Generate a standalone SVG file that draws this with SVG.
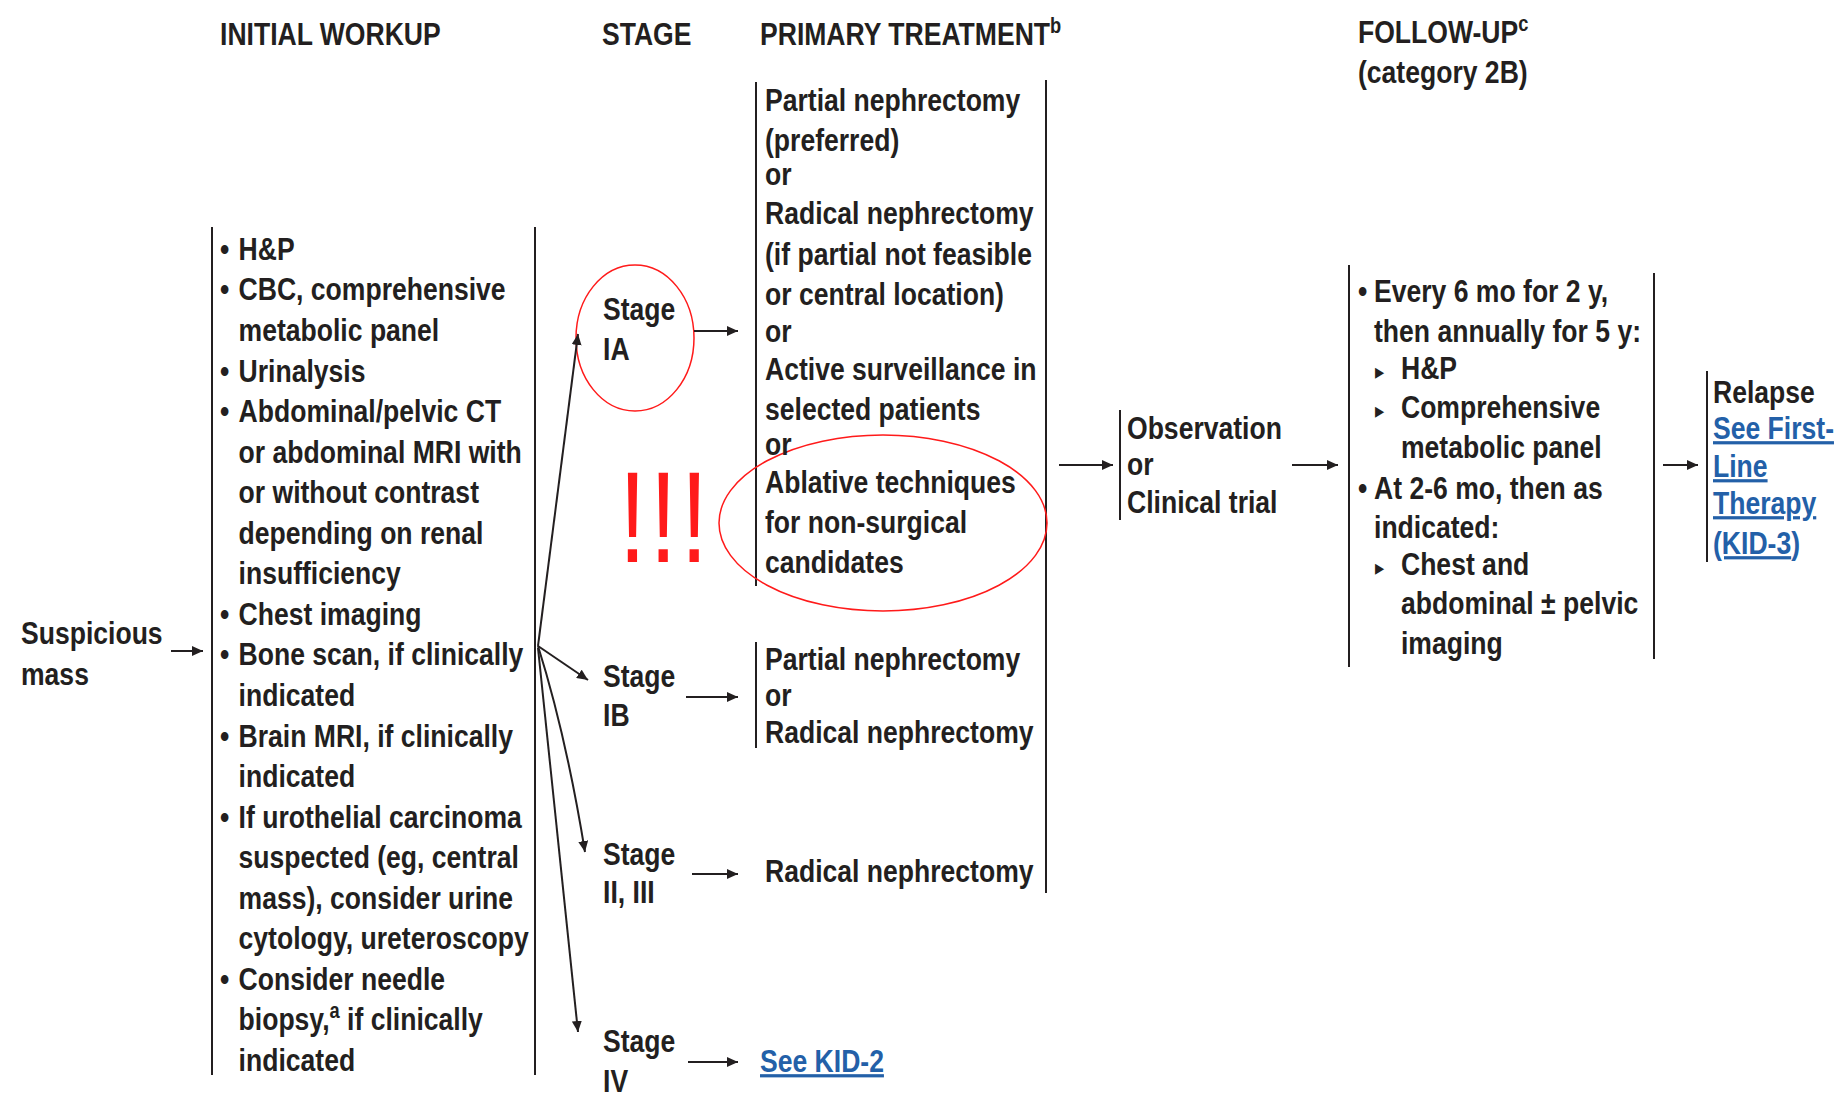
<svg xmlns="http://www.w3.org/2000/svg" width="1845" height="1096" viewBox="0 0 1845 1096">
<defs>
<style>
.t{font-family:"Liberation Sans",Arial,"DejaVu Sans",sans-serif;font-weight:bold;font-size:32px;fill:#231f20}
.sup{font-size:22px}
.tri{font-family:"DejaVu Sans",sans-serif;font-size:22px}
.lk{fill:#2360a8;text-decoration:underline}
.bar{stroke:#231f20;stroke-width:2}
.c{stroke:#231f20;stroke-width:2;fill:none;marker-end:url(#ah)}
.hl{fill:none;stroke:#ff1a1a;stroke-width:1.5}
.ex{font-family:"Liberation Sans",Arial,sans-serif;font-weight:normal;font-size:130px;letter-spacing:5px;fill:#ff1a1a}
</style>
<marker id="ah" markerUnits="userSpaceOnUse" markerWidth="12" markerHeight="10" refX="11" refY="5" orient="auto"><path d="M0,0 L11,5 L0,10 z" fill="#231f20"/></marker>
</defs>
<rect width="1845" height="1096" fill="#fff"/>

<g id="headers">
<text class="t" transform="translate(220,45) scale(0.83,1)">INITIAL WORKUP</text>
<text class="t" transform="translate(602,45) scale(0.83,1)">STAGE</text>
<text class="t" transform="translate(760,45) scale(0.83,1)">PRIMARY TREATMENT<tspan class="sup" dy="-12">b</tspan></text>
<text class="t" transform="translate(1358,43) scale(0.83,1)"><tspan x="0" y="0">FOLLOW-UP</tspan><tspan class="sup" dy="-12">c</tspan><tspan x="0" y="40">(category 2B)</tspan></text>
</g>

<g id="suspicious-mass">
<text class="t" transform="translate(21,644) scale(0.83,1)"><tspan x="0" y="0">Suspicious</tspan><tspan x="0" y="41">mass</tspan></text>
</g>

<g id="initial-workup">
<line class="bar" x1="212" y1="227" x2="212" y2="1075"/>
<line class="bar" x1="535" y1="227" x2="535" y2="1075"/>
<text class="t" transform="translate(220,260) scale(0.83,1)">
<tspan x="0" y="0">•</tspan><tspan x="22.4" y="0">H&amp;P</tspan>
<tspan x="0" y="40.5">•</tspan><tspan x="22.4" y="40.5">CBC, comprehensive</tspan>
<tspan x="22.4" y="81.1">metabolic panel</tspan>
<tspan x="0" y="121.7">•</tspan><tspan x="22.4" y="121.7">Urinalysis</tspan>
<tspan x="0" y="162.2">•</tspan><tspan x="22.4" y="162.2">Abdominal/pelvic CT</tspan>
<tspan x="22.4" y="202.8">or abdominal MRI with</tspan>
<tspan x="22.4" y="243.3">or without contrast</tspan>
<tspan x="22.4" y="283.9">depending on renal</tspan>
<tspan x="22.4" y="324.4">insufficiency</tspan>
<tspan x="0" y="365">•</tspan><tspan x="22.4" y="365">Chest imaging</tspan>
<tspan x="0" y="405.5">•</tspan><tspan x="22.4" y="405.5">Bone scan, if clinically</tspan>
<tspan x="22.4" y="446">indicated</tspan>
<tspan x="0" y="486.6">•</tspan><tspan x="22.4" y="486.6">Brain MRI, if clinically</tspan>
<tspan x="22.4" y="527.2">indicated</tspan>
<tspan x="0" y="567.7">•</tspan><tspan x="22.4" y="567.7">If urothelial carcinoma</tspan>
<tspan x="22.4" y="608.3">suspected (eg, central</tspan>
<tspan x="22.4" y="648.8">mass), consider urine</tspan>
<tspan x="22.4" y="689.4">cytology, ureteroscopy</tspan>
<tspan x="0" y="730">•</tspan><tspan x="22.4" y="730">Consider needle</tspan>
<tspan x="22.4" y="770.5">biopsy,</tspan><tspan class="sup" dy="-12">a</tspan><tspan dy="12"> if clinically</tspan>
<tspan x="22.4" y="811">indicated</tspan>
</text>
</g>

<g id="stage-ia">
<ellipse class="hl" cx="635" cy="338" rx="59" ry="73"/>
<text class="t" transform="translate(603,320) scale(0.83,1)"><tspan x="0" y="0">Stage</tspan><tspan x="0" y="40">IA</tspan></text>
</g>
<g id="stage-ib">
<text class="t" transform="translate(603,687) scale(0.83,1)"><tspan x="0" y="0">Stage</tspan><tspan x="0" y="39">IB</tspan></text>
</g>
<g id="stage-ii-iii">
<text class="t" transform="translate(603,865) scale(0.83,1)"><tspan x="0" y="0">Stage</tspan><tspan x="0" y="38">II, III</tspan></text>
</g>
<g id="stage-iv">
<text class="t" transform="translate(603,1052) scale(0.83,1)"><tspan x="0" y="0">Stage</tspan><tspan x="0" y="40">IV</tspan></text>
</g>

<g id="exclamation">
<text class="ex" transform="translate(619,562) scale(0.75,1)">!!!</text>
</g>

<g id="treatment-ia">
<line class="bar" x1="756" y1="82" x2="756" y2="586"/>
<line class="bar" x1="1046" y1="80" x2="1046" y2="893"/>
<ellipse class="hl" cx="883" cy="523" rx="164" ry="88"/>
<text class="t" transform="translate(765,110.5) scale(0.83,1)">
<tspan x="0" y="0">Partial nephrectomy</tspan>
<tspan x="0" y="40.5">(preferred)</tspan>
<tspan x="0" y="75">or</tspan>
<tspan x="0" y="113.5">Radical nephrectomy</tspan>
<tspan x="0" y="154.5">(if partial not feasible</tspan>
<tspan x="0" y="194.5">or central location)</tspan>
<tspan x="0" y="231.5">or</tspan>
<tspan x="0" y="270">Active surveillance in</tspan>
<tspan x="0" y="310">selected patients</tspan>
<tspan x="0" y="344.5">or</tspan>
<tspan x="0" y="383">Ablative techniques</tspan>
<tspan x="0" y="423">for non-surgical</tspan>
<tspan x="0" y="463">candidates</tspan>
</text>
</g>

<g id="treatment-ib">
<line class="bar" x1="756" y1="642" x2="756" y2="748"/>
<text class="t" transform="translate(765,670) scale(0.83,1)"><tspan x="0" y="0">Partial nephrectomy</tspan><tspan x="0" y="36">or</tspan><tspan x="0" y="73">Radical nephrectomy</tspan></text>
</g>

<g id="treatment-ii-iii">
<text class="t" transform="translate(765,882) scale(0.83,1)">Radical nephrectomy</text>
</g>

<g id="treatment-iv">
<text class="t lk" transform="translate(760,1072) scale(0.83,1)">See KID-2</text>
</g>

<g id="observation">
<line class="bar" x1="1120" y1="410" x2="1120" y2="520"/>
<text class="t" transform="translate(1127,439) scale(0.83,1)"><tspan x="0" y="0">Observation</tspan><tspan x="0" y="36">or</tspan><tspan x="0" y="74">Clinical trial</tspan></text>
</g>

<g id="follow-up">
<line class="bar" x1="1349" y1="265" x2="1349" y2="667"/>
<line class="bar" x1="1654" y1="273" x2="1654" y2="659"/>
<text class="t" transform="translate(1358,302) scale(0.83,1)">
<tspan x="0" y="0">•</tspan><tspan x="19.3" y="0">Every 6 mo for 2 y,</tspan>
<tspan x="19.3" y="40">then annually for 5 y:</tspan>
<tspan class="tri" x="20.5" y="77.5">▸</tspan><tspan x="51.8" y="77.5">H&amp;P</tspan>
<tspan class="tri" x="20.5" y="116">▸</tspan><tspan x="51.8" y="116">Comprehensive</tspan>
<tspan x="51.8" y="156.5">metabolic panel</tspan>
<tspan x="0" y="197">•</tspan><tspan x="19.3" y="197">At 2-6 mo, then as</tspan>
<tspan x="19.3" y="236.5">indicated:</tspan>
<tspan class="tri" x="20.5" y="273">▸</tspan><tspan x="51.8" y="273">Chest and</tspan>
<tspan x="51.8" y="312.5">abdominal ± pelvic</tspan>
<tspan x="51.8" y="352">imaging</tspan>
</text>
</g>

<g id="relapse">
<line class="bar" x1="1707" y1="371" x2="1707" y2="562"/>
<text class="t" transform="translate(1713,403) scale(0.83,1)"><tspan x="0" y="0">Relapse</tspan><tspan class="lk" x="0" y="36">See First-</tspan><tspan class="lk" x="0" y="74">Line</tspan><tspan class="lk" x="0" y="111">Therapy</tspan><tspan class="lk" x="0" y="151">(KID-3</tspan><tspan fill="#2360a8">)</tspan></text>
</g>

<g id="connectors">
<line class="c" x1="171" y1="651" x2="203" y2="651"/>
<line class="c" x1="538" y1="646" x2="578" y2="334"/>
<line class="c" x1="538" y1="646" x2="588" y2="680"/>
<path class="c" d="M538,646 Q566,735 585,852"/>
<line class="c" x1="538" y1="648" x2="578" y2="1032"/>
<line class="c" x1="694" y1="331" x2="738" y2="331"/>
<line class="c" x1="686" y1="697" x2="738" y2="697"/>
<line class="c" x1="692" y1="874" x2="738" y2="874"/>
<line class="c" x1="688" y1="1062" x2="738" y2="1062"/>
<line class="c" x1="1059" y1="465" x2="1113" y2="465"/>
<line class="c" x1="1292" y1="465" x2="1338" y2="465"/>
<line class="c" x1="1663" y1="465" x2="1698" y2="465"/>
</g>
</svg>
